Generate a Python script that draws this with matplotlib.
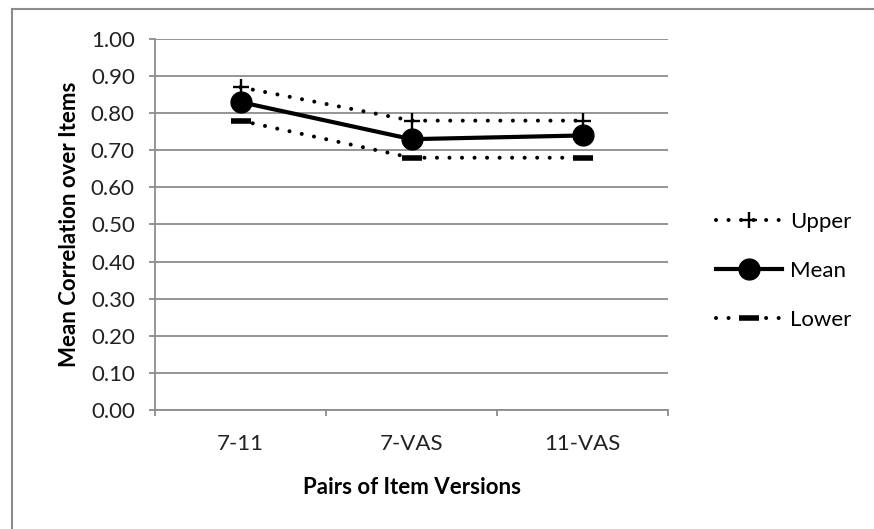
import matplotlib.pyplot as plt
from matplotlib.lines import Line2D

plt.rcParams['font.family'] = ['Lato', 'DejaVu Sans']

# data
pairs = ['7-11', '7-VAS', '11-VAS']
upper = [0.87, 0.78, 0.78]
mean = [0.83, 0.73, 0.74]
lower = [0.78, 0.68, 0.68]
yticks = [0.0, 0.1, 0.2, 0.3, 0.4, 0.5, 0.6, 0.7, 0.8, 0.9, 1.0]

grey = '#8c8c8c'
dots = (0, (0.01, 3.1))
fs = 16

fig = plt.figure(figsize=(8.74, 5.29), dpi=100)
ax = fig.add_axes([155/874, 1-410/529, (668-155)/874, (410-39)/529])

x = list(range(len(pairs)))
ax.plot(x, upper, color='black', lw=2.9, linestyle=dots, dash_capstyle='round',
        marker='+', markersize=11, mew=1.7, label='Upper')
ax.plot(x, mean, color='black', lw=3, marker='o', markersize=15, label='Mean')
ax.plot(x, lower, color='black', lw=2.9, linestyle=dots, dash_capstyle='round',
        marker='_', markersize=15, mew=4, label='Lower')

ax.set_xlim(-0.5, 2.5)
ax.set_ylim(0, 1.0)
ax.set_yticks(yticks)
ax.set_yticklabels(['%.2f' % v for v in yticks])
ax.grid(axis='y', color=grey, lw=1.3)
ax.set_axisbelow(True)

ax.set_xticks(x)
ax.set_xticklabels(pairs)
ax.set_xticks([-0.5, 0.5, 1.5, 2.5], minor=True)
ax.tick_params(axis='x', which='major', length=0, pad=17, labelsize=fs, colors='#222222')
ax.tick_params(axis='x', which='minor', length=4.5, width=1.3, color=grey)
ax.tick_params(axis='y', length=4.5, width=1.3, color=grey, labelsize=fs, labelcolor='#222222', pad=10)

for s in ['top', 'right']:
    ax.spines[s].set_visible(False)
for s in ['left', 'bottom']:
    ax.spines[s].set_color(grey)
    ax.spines[s].set_linewidth(1.3)

ax.set_xlabel('Pairs of Item Versions', fontsize=fs, fontweight='bold', labelpad=17)
ax.set_ylabel('Mean Correlation over Items', fontsize=fs, fontweight='bold', labelpad=8)

ax.legend(loc='center left', bbox_to_anchor=(0.796, 1-271/529), bbox_transform=fig.transFigure,
          frameon=False, fontsize=fs, handlelength=3.0, labelspacing=1.3,
          handletextpad=0.35, numpoints=1)

# outer chart border (cut off on right and bottom)
fig.add_artist(Line2D([12/874, 12/874], [0, 1-9/529], color=grey, lw=1.5))
fig.add_artist(Line2D([12/874, 1], [1-9/529, 1-9/529], color=grey, lw=1.5))

fig.savefig('out.png', dpi=100)
